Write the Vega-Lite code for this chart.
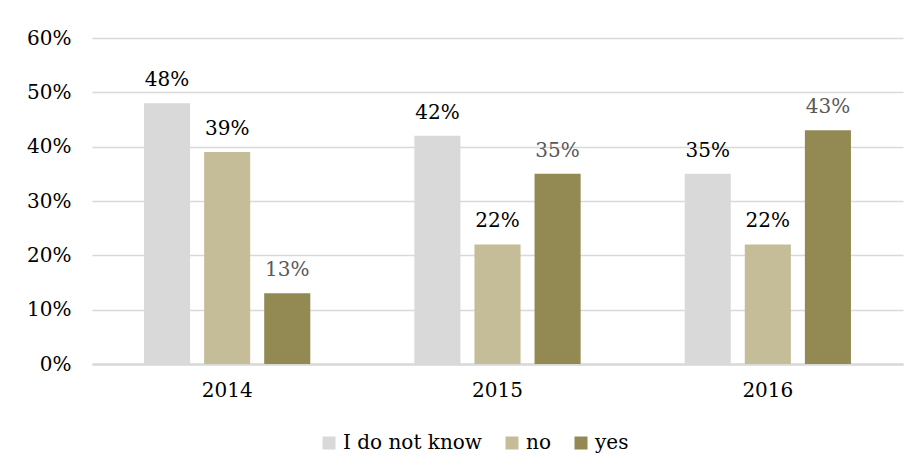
{
  "$schema": "https://vega.github.io/schema/vega-lite/v6.json",
  "autosize": {"type": "none"},
  "padding": {"left": 92, "top": 38, "right": 17, "bottom": 111},
  "width": 811,
  "height": 326,
  "background": "white",
  "data": {
    "values": [
      {"year": "2014", "answer": "I do not know", "share": 0.48},
      {"year": "2014", "answer": "no", "share": 0.39},
      {"year": "2014", "answer": "yes", "share": 0.13},
      {"year": "2015", "answer": "I do not know", "share": 0.42},
      {"year": "2015", "answer": "no", "share": 0.22},
      {"year": "2015", "answer": "yes", "share": 0.35},
      {"year": "2016", "answer": "I do not know", "share": 0.35},
      {"year": "2016", "answer": "no", "share": 0.22},
      {"year": "2016", "answer": "yes", "share": 0.43}
    ]
  },
  "encoding": {
    "x": {
      "field": "year",
      "type": "nominal",
      "title": null,
      "scale": {"paddingInner": 0.385, "paddingOuter": 0.1925},
      "axis": {
        "labelAngle": 0,
        "labelPadding": 16,
        "ticks": false,
        "domainColor": "#d9d9d9",
        "domainWidth": 2.5
      }
    },
    "xOffset": {
      "field": "answer",
      "type": "nominal",
      "sort": ["I do not know", "no", "yes"],
      "scale": {"paddingInner": 0.233, "paddingOuter": 0}
    },
    "y": {
      "field": "share",
      "type": "quantitative",
      "title": null,
      "scale": {"domain": [0, 0.6]},
      "axis": {
        "values": [0, 0.1, 0.2, 0.3, 0.4, 0.5, 0.6],
        "format": ".0%",
        "domain": false,
        "ticks": false,
        "labelPadding": 21,
        "gridColor": "#d9d9d9",
        "gridWidth": 1.5
      }
    }
  },
  "layer": [
    {
      "mark": {"type": "bar"},
      "encoding": {
        "color": {
          "field": "answer",
          "type": "nominal",
          "title": null,
          "scale": {
            "domain": ["I do not know", "no", "yes"],
            "range": ["#d9d9d9", "#c4bd97", "#938953"]
          },
          "legend": {
            "orient": "none",
            "legendX": 227,
            "legendY": 395,
            "direction": "horizontal",
            "symbolType": "square",
            "symbolSize": 169,
            "symbolStrokeWidth": 0,
            "labelOffset": 4,
            "columnPadding": 20
          }
        }
      }
    },
    {
      "mark": {"type": "text", "baseline": "alphabetic", "dy": -17, "fontSize": 20, "font": "DejaVu Serif"},
      "encoding": {
        "text": {"field": "share", "type": "quantitative", "format": ".0%"},
        "color": {
          "condition": {"test": "datum.answer === 'yes'", "value": "#595959"},
          "value": "#000000"
        }
      }
    }
  ],
  "config": {
    "view": {"stroke": null},
    "axis": {
      "labelFont": "DejaVu Serif",
      "labelFontSize": 20,
      "labelColor": "#000000"
    },
    "legend": {
      "labelFont": "DejaVu Serif",
      "labelFontSize": 20,
      "labelColor": "#000000"
    }
  }
}
